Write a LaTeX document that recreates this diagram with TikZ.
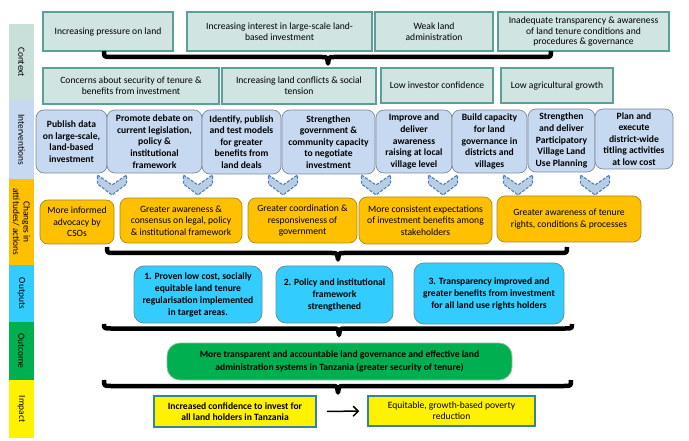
\documentclass[tikz,border=0pt]{standalone}
\usepackage{fontspec}
\setmainfont{Carlito}
\usetikzlibrary{arrows.meta}
\definecolor{ctxfill}{HTML}{D0E4E1}
\definecolor{ctxline}{HTML}{5E9E98}
\definecolor{intfill}{HTML}{C6D9F1}
\definecolor{intline}{HTML}{7F8A99}
\definecolor{chgfill}{HTML}{FFC000}
\definecolor{chgline}{HTML}{A8891E}
\definecolor{outfill}{HTML}{33CCFF}
\definecolor{outline}{HTML}{6A8E98}
\definecolor{ocmfill}{HTML}{00B050}
\definecolor{ocmline}{HTML}{8DBF9C}
\definecolor{impline}{HTML}{31859C}
\definecolor{chevfill}{HTML}{B9CDE5}
\definecolor{chevline}{HTML}{4F81BD}
\definecolor{bandctx}{HTML}{C9DFDA}

\begin{document}
\begin{tikzpicture}[x=1pt, y=-1pt, >={Straight Barb[length=5pt,width=10pt]},
    band/.style={rotate=-90, minimum height=25pt, inner sep=0pt, align=center,
        font=\fontsize{9.4}{10.5}\selectfont},
    ctxbox/.style={draw=ctxline, fill=ctxfill, line width=1.2pt, inner sep=0pt,
        align=center, font=\fontsize{9.6}{10.8}\selectfont},
    intbox/.style={draw=intline, fill=intfill, line width=0.7pt, rounded corners=8pt,
        inner sep=0pt, align=center, font=\fontsize{9.6}{11.6}\selectfont\bfseries},
    chgbox/.style={draw=chgline, fill=chgfill, line width=0.7pt, rounded corners=8pt,
        inner sep=0pt, align=center, font=\fontsize{9.6}{11.4}\selectfont},
    outbox/.style={draw=outline, fill=outfill, line width=0.8pt, rounded corners=10pt,
        inner sep=0pt, align=center, font=\fontsize{9.6}{12}\selectfont\bfseries},
    impbox/.style={draw=impline, fill=yellow, line width=1.5pt, inner sep=0pt,
        align=center, font=\fontsize{9.6}{10.6}\selectfont},
    chev/.style={draw=chevline, fill=chevfill, line width=1.1pt, dash pattern=on 3pt off 1.5pt},
    brace/.style={line width=4.5pt, line join=round}]

    \useasboundingbox (0,0) rectangle (689,441);

    \node[band, fill=bandctx, minimum width=76pt] (lctx) at (21.5,62) {Context};
    \node[band, fill=intfill, minimum width=79pt] (lint) at (21.5,139.5) {Interventions};
    \node[band, fill=chgfill, minimum width=86pt] (lchg) at (21.5,222) {Changes in\\attitudes/ actions};
    \node[band, fill=outfill, minimum width=57pt] (lout) at (21.5,293.5) {Outputs};
    \node[band, fill=ocmfill, minimum width=58pt] (locm) at (21.5,351) {Outcome};
    \node[band, fill=yellow, minimum width=58pt] (limp) at (21.5,409) {Impact};

    \node[ctxbox, minimum width=130pt, minimum height=39pt] (pressure) at (108,31.5) {Increasing pressure on land};
    \node[ctxbox, minimum width=185pt, minimum height=39pt] (interest) at (279.5,31.5) {Increasing interest in large-scale land-\\based investment};
    \node[ctxbox, minimum width=118pt, minimum height=39pt] (weak) at (434,31.5) {Weak land\\administration};
    \node[ctxbox, minimum width=171pt, minimum height=39pt] (inadequate) at (583.5,31.5) {Inadequate transparency \& awareness\\of land tenure conditions and\\procedures \& governance};

    \node[ctxbox, minimum width=176pt, minimum height=36pt] (concerns) at (131,86) {Concerns about security of tenure \&\\benefits from investment};
    \node[ctxbox, minimum width=154pt, minimum height=36pt] (conflicts) at (299,86) {Increasing land conflicts \& social\\tension};
    \node[ctxbox, minimum width=112pt, minimum height=35pt] (investor) at (437,85.5) {Low investor confidence};
    \node[ctxbox, minimum width=112pt, minimum height=35pt] (growth) at (557,85.5) {Low agricultural growth};

    \node[intbox, minimum width=71pt, minimum height=63pt] (publish) at (71.5,141.5) {Publish data\\on large-scale,\\land-based\\investment};
    \node[intbox, minimum width=95pt, minimum height=63pt] (debate) at (154.5,141.5) {Promote debate on\\current legislation,\\policy \&\\institutional\\framework};
    \node[intbox, minimum width=79pt, minimum height=64pt] (models) at (241.5,142) {Identify, publish\\and test models\\for greater\\benefits from\\land deals};
    \node[intbox, minimum width=93pt, minimum height=64pt] (capacity) at (328.5,142) {Strengthen\\government \&\\community capacity\\to negotiate\\investment};
    \node[intbox, minimum width=76pt, minimum height=63pt] (awareness) at (414,141.5) {Improve and\\deliver\\awareness\\raising at local\\village level};
    \node[intbox, minimum width=75pt, minimum height=63pt] (build) at (489.5,141.5) {Build capacity\\for land\\governance in\\districts and\\villages};
    \node[intbox, minimum width=67pt, minimum height=63pt] (planning) at (561.5,140.5) {Strengthen\\and deliver\\Participatory\\Village Land\\Use Planning};
    \node[intbox, minimum width=78pt, minimum height=60pt] (titling) at (634,139) {Plan and\\execute\\district-wide\\titling activities\\at low cost};

    \foreach \cx in {112,198,283,376,443,518,595} {
        \draw[chev] (\cx-14.5,175) -- (\cx,185) -- (\cx+14.5,175) -- (\cx+14.5,184)
            -- (\cx,195) -- (\cx-14.5,184) -- cycle;
    }

    \node[chgbox, minimum width=74pt, minimum height=44pt] (advocacy) at (77,222) {More informed\\advocacy by\\CSOs};
    \node[chgbox, minimum width=122pt, minimum height=45pt] (consensus) at (181,220.5) {Greater awareness \&\\consensus on legal, policy\\\& institutional framework};
    \node[chgbox, minimum width=109pt, minimum height=45pt] (coordination) at (302.5,220.5) {Greater coordination \&\\responsiveness of\\government};
    \node[chgbox, minimum width=133pt, minimum height=47pt] (expectations) at (425.5,220.5) {More consistent expectations\\of investment benefits among\\stakeholders};
    \node[chgbox, minimum width=144pt, minimum height=46pt] (rights) at (569,219) {Greater awareness of tenure\\rights, conditions \& processes};

    \node[outbox, minimum width=128pt, minimum height=57pt] (proven) at (198,294.5) {1. Proven low cost, socially\\equitable land tenure\\regularisation implemented\\in target areas.};
    \node[outbox, minimum width=117pt, minimum height=57pt] (policy) at (334.5,294.5) {2. Policy and institutional\\framework\\strengthened};
    \node[outbox, minimum width=150pt, minimum height=61pt] (transparency) at (489,293.5) {3. Transparency improved and\\greater benefits from investment\\for all land use rights holders};

    \node[draw=ocmline, fill=ocmfill, line width=0.8pt, rounded corners=13pt, inner sep=0pt,
        align=center, font=\fontsize{9.6}{13.5}\selectfont\bfseries,
        minimum width=345pt, minimum height=37pt] (governance) at (339.5,361.5)
        {More transparent and accountable land governance and effective land\\administration systems in Tanzania (greater security of tenure)};

    \node[impbox, font=\fontsize{9.6}{10.6}\selectfont\bfseries, minimum width=162pt, minimum height=31pt] (confidence) at (235,411.5) {Increased confidence to invest for\\all land holders in Tanzania};
    \node[impbox, minimum width=167pt, minimum height=30pt] (poverty) at (451.5,411) {Equitable, growth-based poverty\\reduction};

    \draw[->, line width=1.5pt, shorten <=10pt, shorten >=8pt] (confidence) -- (poverty);

    \foreach \lx/\mx/\rx/\ty/\by in {104/328/551/51/57, 107/338/567/247/253, 104/339/572/324/328.5, 104/338/571/380/386} {
        \draw[brace] (\lx,\ty) .. controls (\lx,\by) .. (\lx+7,\by) -- (\mx-6,\by)
            .. controls (\mx-1,\by) .. (\mx,\by+6.5) .. controls (\mx+1,\by) .. (\mx+6,\by)
            -- (\rx-7,\by) .. controls (\rx,\by) .. (\rx,\ty);
    }
\end{tikzpicture}
\end{document}
